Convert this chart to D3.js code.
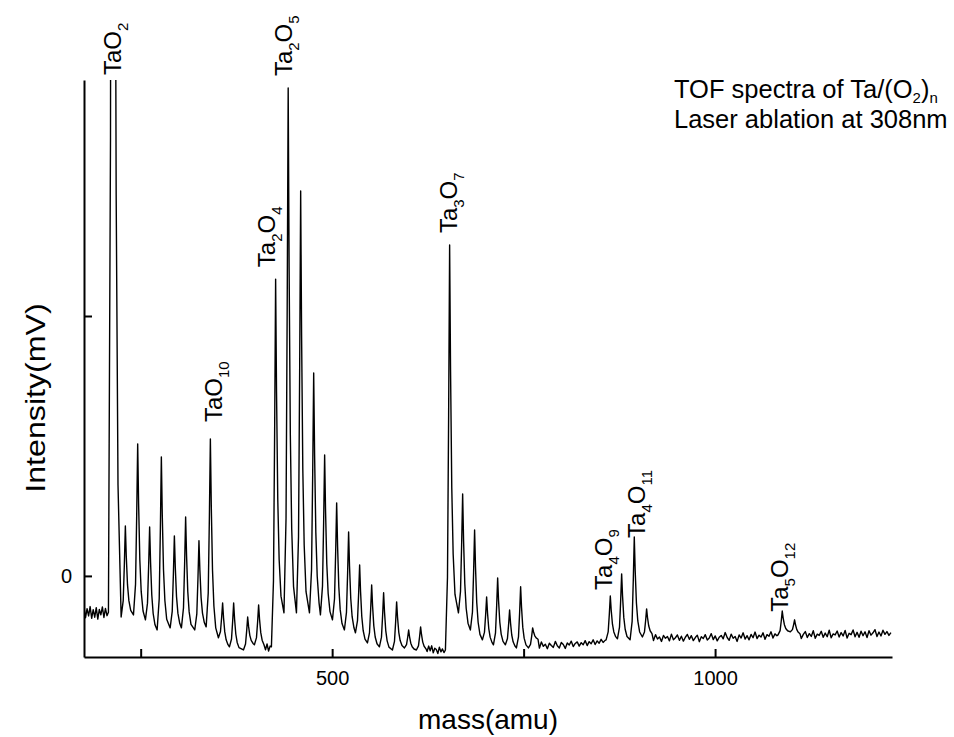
<!DOCTYPE html>
<html>
<head>
<meta charset="utf-8">
<script src="https://cdn.jsdelivr.net/npm/d3@7"></script>
<style>
  body { margin: 0; background: #fff; }
  svg text { font-family: "Liberation Sans", Arial, sans-serif; fill: #000; }
</style>
</head>
<body>
<svg id="chart" width="954" height="737"></svg>
<script>
// peak positions (amu), heights (mV, arbitrary) and the level of the valley on their left
var peakMass   = [213.4, 230.0, 246.1, 261.7, 277.0, 294.0, 308.7, 326.1, 341.0, 357.0, 371.4, 389.7, 404.0,
                  426.2, 442.6, 458.9, 475.9, 490.2, 505.9, 521.5, 535.9, 551.6, 567.2, 584.2, 599.9, 615.5,
                  653.4, 670.4, 686.0, 701.7, 716.1, 731.7, 746.1, 761.8,
                  863.2, 878.0, 894.5, 910.6, 1087.7, 1103.8];
var peakHeight = [1000, 19.2, 50.8, 18.8, 45.8, 15.4, 22.7, 13.5, 52.7, -10.4, -10.4, -15.8, -11.2,
                  114.2, 187.7, 148.1, 78.1, 46.5, 28.1, 16.9, 4.2, -3.5, -6.5, -10.0, -20.8, -19.6,
                  127.3, 31.5, 17.7, -8.1, -0.8, -13.1, -4.2, -20.0,
                  -7.7, 0.8, 15.0, -12.7, -13.5, -16.9];
var peakFoot   = [-14.0, -15.8, -15.0, -16.9, -20.8, -20.0, -20.0, -20.8, -19.6, -23.8, -27.3, -28.5, -26.5,
                  -27.3, -14.2, -14.2, -14.2, -15.0, -16.9, -20.8, -21.9, -25.8, -27.3, -28.5, -27.7, -28.5,
                  -28.5, -14.2, -20.8, -24.6, -26.5, -26.5, -27.7, -27.7,
                  -24.6, -24.2, -24.6, -23.5, -22.7, -21.5];
var lastFoot = -22.5;

// baseline noise between the peak groups: start mass, step, readings
var noiseStart = [176, 411, 622, 768, 917, 1110];
var noiseStep  = [2, 2, 2, 2.6, 2.6, 2.6];
var noiseA = [-12.0,-16.1,-12.6,-15.4,-11.8,-16.3,-13.0,-15.9,-12.2,-16.6,-12.9,-15.0,-11.9,-16.0,-12.5,-15.3,-13.1];
var noiseB = [-26.8,-28.4,-26.2,-28.9,-27.0];
var noiseC = [-27.5,-29.1,-27.0,-28.8,-26.9,-29.6,-27.8,-28.3,-29.9,-27.4,-29.2,-28.1,-29.5,-27.9];
var noiseD = [-26.0,-27.8,-25.4,-27.1,-26.3,-28.0,-25.9,-26.8,-27.5,-25.2,-26.9,-27.7,-25.6,-26.4,-27.9,-25.8,
              -26.6,-25.1,-27.2,-26.0,-25.4,-27.0,-25.7,-26.5,-24.9,-26.8,-25.3,-26.1,-24.6,-26.4,-25.0,-25.9,
              -24.4,-25.6,-24.8];
var noiseE = [-23.1,-24.9,-22.6,-24.3,-23.5,-25.2,-22.9,-24.0,-23.3,-25.0,-22.4,-24.6,-23.8,-22.7,-24.8,-23.2,
              -25.1,-23.6,-22.5,-24.4,-23.0,-24.9,-23.7,-22.8,-25.3,-23.4,-24.1,-22.6,-24.7,-23.9,-22.2,-24.5,
              -23.1,-25.0,-23.6,-22.9,-24.2,-21.8,-23.7,-24.8,-22.4,-24.0,-23.3,-25.2,-22.7,-23.9,-21.9,-24.3,
              -23.0,-24.6,-22.5,-23.8,-21.6,-24.1,-22.8,-23.5,-21.9,-24.4,-22.6,-23.2,-21.5,-23.9,-22.3,-23.0];
var noiseF = [-21.9,-24.1,-22.5,-21.4,-23.7,-22.2,-23.3,-21.1,-24.0,-22.4,-22.9,-21.3,-23.6,-22.0,-23.4,-20.9,
              -23.8,-22.3,-22.7,-21.2,-23.5,-21.8,-23.1,-21.0,-23.9,-22.1,-22.6,-20.8,-23.4,-21.7,-23.6,-21.3,
              -23.0,-21.5,-23.7,-21.1,-22.8,-21.9,-20.7,-23.3,-21.6,-23.1,-20.9,-22.5,-21.4,-22.9,-21.8];
var noiseSets = [noiseA, noiseB, noiseC, noiseD, noiseE, noiseF];

// peak labels: formula parts [main, sub, main, sub] and anchor (amu, mV)
var labelParts = [["Ta","","O","2"], ["Ta","2","O","5"], ["Ta","2","O","4"], ["Ta","3","O","7"],
                  ["Ta","","O","10"], ["Ta","4","O","9"], ["Ta","4","O","11"], ["Ta","5","O","12"]];
var labelMass  = [224.3, 447.6, 425.4, 663.0, 356.2, 865.4, 908.5, 1095.2];
var labelLevel = [192.7, 192.3, 118.8, 131.9, 59.2, -5.4, 14.6, -13.8];

var xTicks = [250, 500, 750, 1000];
var yTicks = [0, 100];

var svg = d3.select("#chart");

var x = d3.scaleLinear().domain([176, 1231]).range([84, 892]);
var y = d3.scaleLinear().domain([-31.2, 190.8]).range([657, 80]);

// peak outline (amu offset, fraction of height above foot)
var rise = [[-5.5, 0], [-2.8, 0.18], [-1.3, 0.58], [0, 1]];
var fall = [[1.2, 0.66], [2.8, 0.34], [4.6, 0.16], [7.0, 0.05]];

var pts = [];
peakMass.forEach(function(m, i) {
  var h = peakHeight[i], f = peakFoot[i];
  var nf = i + 1 < peakFoot.length ? peakFoot[i + 1] : lastFoot;
  rise.forEach(function(r) { pts.push([m + r[0], f + r[1] * (h - f)]); });
  fall.forEach(function(r) { pts.push([m + r[0], nf + r[1] * (h - nf)]); });
});
noiseSets.forEach(function(set, k) {
  set.forEach(function(v, j) {
    var m = noiseStart[k] + j * noiseStep[k];
    var inside = peakMass.some(function(p) { return m > p - 5.6 && m < p + 7.1; });
    if (!inside) pts.push([m, v]);
  });
});
pts.sort(function(a, b) { return a[0] - b[0]; });

svg.append("clipPath").attr("id", "plotclip")
  .append("rect").attr("x", 84).attr("y", 80).attr("width", 808).attr("height", 577);

var line = d3.line().x(function(d) { return x(d[0]); }).y(function(d) { return y(d[1]); });

svg.append("path")
  .datum(pts)
  .attr("clip-path", "url(#plotclip)")
  .attr("fill", "none")
  .attr("stroke", "#000")
  .attr("stroke-width", 1.4)
  .attr("stroke-linejoin", "round")
  .attr("d", line);

// axes, ticks pointing inwards
var xAxis = d3.axisBottom(x).tickValues(xTicks).tickSizeInner(-8).tickSizeOuter(0).tickPadding(14)
  .tickFormat(function(d) { return d % 500 === 0 ? d : ""; });
var yAxis = d3.axisLeft(y).tickValues(yTicks).tickSizeInner(-8).tickSizeOuter(0).tickPadding(12)
  .tickFormat(function(d) { return d === 0 ? "0" : ""; });

var gx = svg.append("g").attr("transform", "translate(0,657)").call(xAxis);
var gy = svg.append("g").attr("transform", "translate(84,0)").call(yAxis);
[gx, gy].forEach(function(g) {
  g.select(".domain").attr("stroke-width", 2);
  g.selectAll(".tick line").attr("stroke-width", 2);
  g.selectAll(".tick text").attr("font-size", 20).attr("font-family", "Liberation Sans, Arial, sans-serif");
});

svg.append("text").attr("x", 488).attr("y", 729).attr("text-anchor", "middle")
  .attr("font-size", 28).text("mass(amu)");
svg.append("text").attr("transform", "translate(45,398) rotate(-90) scale(1.15,1)").attr("text-anchor", "middle")
  .attr("font-size", 28).text("Intensity(mV)");

// formula labels, rotated
labelParts.forEach(function(parts, i) {
  var t = svg.append("text")
    .attr("transform", "translate(" + x(labelMass[i]) + "," + y(labelLevel[i]) + ") rotate(-90)")
    .attr("font-size", 24);
  var shift = 0;
  parts.forEach(function(p, k) {
    if (!p) return;
    var sub = k % 2 === 1;
    var dy = sub ? 7 - shift : -shift;
    shift = sub ? 7 : 0;
    t.append("tspan").attr("dy", dy).attr("font-size", sub ? 15 : 24).text(p);
  });
});

// note in the corner
var note = svg.append("text").attr("x", 674).attr("y", 98).attr("font-size", 25.5);
note.append("tspan").text("TOF spectra of Ta/(O");
note.append("tspan").attr("dy", 5).attr("font-size", 15).text("2");
note.append("tspan").attr("dy", -5).text(")");
note.append("tspan").attr("dy", 5).attr("font-size", 15).text("n");
svg.append("text").attr("x", 674).attr("y", 128).attr("font-size", 25.5).text("Laser ablation at 308nm");
</script>
</body>
</html>
